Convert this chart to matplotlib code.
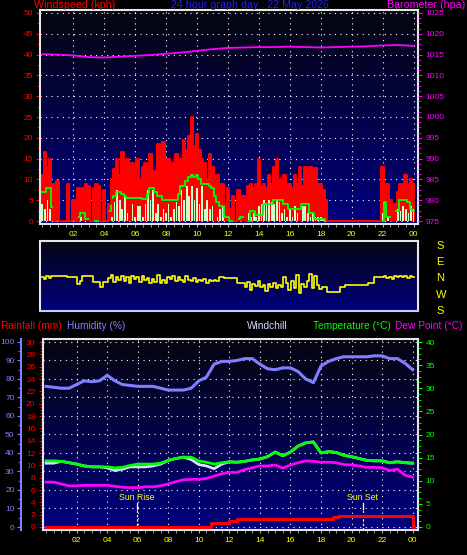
import numpy as np
import matplotlib
matplotlib.use('Agg')
import matplotlib.pyplot as plt
from matplotlib.ticker import MultipleLocator, FuncFormatter

plt.rcParams['font.family'] = ['Liberation Sans', 'DejaVu Sans']

W, H = 467, 555

# ---------------- data ----------------
# wind samples every 10 minutes (hours)
wind_hours = np.arange(145) / 6.0
gust = [11, 16.5, 13, 15, 9, 0,
        9.5, 0, 0, 0, 9, 0,
        5, 0, 8, 4, 8, 9,
        8.5, 0, 8, 9, 8.5, 0,
        7.5, 0, 4, 10, 12.5, 15,
        11, 16.5, 12, 15, 10, 14,
        12, 15, 10, 13, 14, 11,
        16, 10, 12, 18.5, 9, 19,
        10, 15, 12, 14, 16, 11,
        15, 19.5, 17, 20.5, 25, 18,
        20.8, 17, 15, 14, 10, 16,
        13, 9, 11, 7, 9, 4,
        8, 3, 6, 0, 7.5, 2,
        6, 0, 8.5, 9, 8, 9,
        15, 8.5, 9, 8, 11, 9,
        13, 15, 10, 9, 11, 8.5,
        9, 8, 11, 9, 13, 8.5,
        13, 9, 13, 8, 12.8, 6,
        9, 7.5, 5, 0, 0, 0,
        0, 0, 0, 0, 0, 0,
        0, 0, 0, 0, 0, 0,
        0, 0, 0, 0, 0, 0,
        13, 8.5, 9, 5, 0, 4,
        7, 9, 8.5, 11, 9, 10,
        9]
speed = [4, 3, 5, 3, 0, 0,
         0, 0, 0, 0, 0, 0,
         0, 0, 0, 1, 0, 0,
         0, 0, 0, 0, 0, 0,
         0, 0, 0, 1, 4.5, 7.5,
         5, 3, 6, 2, 0, 4,
         1, 3.5, 3.5, 1, 4, 7.5,
         5, 7.5, 2, 4, 1, 3,
         2, 4, 1, 3, 4.5, 3.5,
         7.5, 5, 8.5, 6, 8.5, 5,
         8, 4, 8.5, 3, 5, 3,
         3.5, 0, 1, 3, 3.3, 0,
         0, 0, 0, 0, 0, 0,
         0, 1, 2, 1, 2, 1,
         3.5, 4, 5, 4, 5, 4.5,
         4, 5, 4.5, 2, 3, 1,
         3, 1, 3.5, 2, 0, 3.5,
         3.5, 2, 1, 2, 1, 1,
         1, 0.5, 0, 0, 0, 0,
         0, 0, 0, 0, 0, 0,
         0, 0, 0, 0, 0, 0,
         0, 0, 0, 0, 0, 0,
         2, 0, 1, 0, 0, 0,
         3, 2.5, 3.5, 3, 2, 3.5,
         3]
avg_speed = [7, 7, 8, 8, 3.3, 0,
             0, 0, 0, 0, 0, 0,
             0, 0, 1, 2, 2, 0.5,
             0.5, 0, 0, 0, 0, 0,
             0, 0, 2.5, 5.5, 6, 7,
             7, 6.5, 6, 5.5, 5.5, 5.5,
             5.5, 5.5, 5.5, 5.4, 5.4, 6.5,
             8, 8, 7, 6, 6, 5,
             5, 5, 5, 5, 5, 6.5,
             8.5, 8.5, 9.5, 10.5, 11, 10.5,
             11, 10, 9, 9, 9, 8.5,
             8, 6, 4.5, 3.5, 3.5, 1,
             1, 0, 0, 0, 0.5, 1,
             1, 0.5, 0, 2.5, 2.5, 1.5,
             1.5, 1.5, 4, 4, 4, 4,
             5, 5, 5, 5, 4, 4,
             3, 3, 3, 3, 3, 4,
             4, 4, 2, 2, 0.5, 0.5,
             0.5, 0.5, 0, 0, 0, 0,
             0, 0, 0, 0, 0, 0,
             0, 0, 0, 0, 0, 0,
             0, 0, 0, 0, 0, 0,
             0, 4.5, 1, 1, 2.5, 2.5,
             2.5, 5, 5, 5, 4.5, 3,
             2.5]
# wind direction, degrees (N=0, E=90, S=180, W=-90)
direction = [5, -8, 6, -3, 9, 9,
             9, 9, 9, 9, 3, 3,
             3, 3, -36, -18, 9, 9,
             9, 9, -27, -27, -27, -51,
             -27, -27, -5, 12, -25, 5,
             -15, 10, -20, 0, -30, 8,
             -10, 5, -25, 10, -12, -5,
             -30, -10, -25, 12, -28, -15,
             -30, 0, -10, 10, -20, 5,
             -12, -25, 8, -15, -20, -5,
             -25, -12, -20, -10, -28, -15,
             -22, -12, -18, 0, 0, -5,
             -5, -5, -5, -5, -33, -33,
             -33, -50, -25, -70, -35, -45,
             -20, -55, -40, -75, -35, -50,
             -30, -60, -40, -55, 5, -30,
             -70, -20, -60, 15, -85, -35,
             -50, -20, 20, -60, 10, -40,
             -65, -55, -55, -78, -78, -78,
             -78, -78, -55, -55, -40, -40,
             -40, -40, -40, -40, -40, -40,
             -40, -31, -31, 0, 0, 0,
             3, 8, -5, 5, -10, 6,
             0, 8, 5, 8, -3, 6,
             3]
baro_hours = list(range(25))
baro = [1015.1, 1015.0, 1014.8, 1014.4, 1014.3, 1014.5, 1014.7, 1014.9, 1015.2,
        1015.5, 1015.9, 1016.3, 1016.6, 1016.7, 1016.8, 1016.8, 1016.9, 1016.8,
        1016.7, 1016.8, 1016.9, 1017.0, 1017.2, 1017.3, 1017.1]

# lower panel, half-hourly
hours_b = np.arange(49) / 2.0
temperature = [14.3, 14.3, 14.2, 13.9, 13.6, 13.2, 13.0, 13.0, 13.0, 12.8,
               12.9, 13.3, 13.6, 13.6, 13.6, 13.8, 14.4, 14.8, 15.1, 15.1,
               14.3, 14.0, 13.6, 13.9, 14.1, 14.0, 14.2, 14.5, 14.7, 15.2,
               16.2, 15.4, 16.2, 17.5, 18.2, 18.4, 16.0, 16.3, 16.1, 15.5,
               15.2, 14.8, 14.4, 14.3, 14.3, 13.9, 14.1, 13.9, 13.8]
windchill = [13.8, 13.8, 14.2, 13.9, 13.6, 13.2, 13.0, 13.0, 12.8, 12.2,
             12.5, 13.0, 13.0, 13.0, 13.2, 13.6, 14.4, 14.8, 15.1, 14.6,
             13.5, 13.2, 12.6, 13.6, 14.1, 14.0, 14.2, 14.5, 14.7, 15.2,
             16.2, 15.4, 16.2, 17.5, 18.2, 18.4, 16.0, 16.3, 16.1, 15.5,
             15.2, 14.8, 14.4, 14.3, 14.3, 13.9, 14.1, 13.9, 13.8]
dew_point = [9.7, 9.7, 9.3, 8.9, 8.9, 9.0, 9.0, 9.0, 9.0, 8.8,
             8.6, 8.5, 8.5, 8.7, 8.7, 8.9, 9.3, 9.8, 10.2, 10.3,
             10.3, 10.5, 11.0, 11.5, 11.8, 11.8, 12.4, 12.8, 13.2, 13.2,
             13.4, 12.7, 13.4, 13.9, 14.3, 14.2, 14.0, 14.0, 13.9, 13.5,
             13.4, 13.2, 12.9, 12.9, 12.8, 12.2, 12.5, 11.2, 10.8]
humidity = [76, 75.5, 75, 75, 77, 79, 78.5, 79, 82, 79,
            77, 76.5, 76, 76, 76, 75, 74, 74, 74, 75,
            79, 81, 88, 89.5, 89.5, 90, 91, 91, 88, 85.5,
            85, 86, 86, 84, 80, 78, 87, 89.5, 91, 92,
            92, 92, 92, 92.5, 92.5, 91, 91, 88.5, 85]
rain_hours = [0, 10.8, 11.2, 12.0, 12.5, 18.8, 19.1, 24.0, 24.1]
rain = [0, 0.6, 0.7, 0.9, 1.25, 1.6, 1.8, 0, 0]
sun_rise = 5.95
sun_set = 20.72

# ---------------- figure ----------------
fig = plt.figure(figsize=(W / 100, H / 100), dpi=100, facecolor='black')


def rect(l, t, r, b):
    return [l / W, 1 - b / H, (r - l) / W, (b - t) / H]


def gradient(ax):
    g = np.linspace(0, 1, 256)[:, None, None]
    top = np.array([0.02, 0.02, 0.06])
    bot = np.array([0.0, 0.0, 0.50])
    img = top + (bot - top) * g
    ax.imshow(img, extent=[0, 1, 0, 1], transform=ax.transAxes,
              aspect='auto', zorder=0, interpolation='bilinear')


FRAME = '#e6e6e6'
DOT = (0, (1, 4))
hour_fmt = FuncFormatter(lambda v, p: '%02d' % (int(round(v)) % 24))
TL = 6  # tick label size

# ---- top panel: wind + barometer ----
ax1 = fig.add_axes(rect(40, 10, 418, 224))
gradient(ax1)
ax1.bar(wind_hours, gust, width=1 / 6, color='#ff0000', linewidth=0, zorder=2)
ax1.bar(wind_hours, speed, width=0.11, color='#ccffcc', linewidth=0, zorder=3)
ax1.plot(wind_hours, avg_speed, drawstyle='steps-mid', color='#00ff00', lw=1.3, zorder=4)
ax1.plot(wind_hours, gust, drawstyle='steps-mid', color='#ff0000', lw=1.4, zorder=5)
ax1.set_xlim(-0.15, 24.29)
ax1.set_ylim(-0.72, 50.72)
ax1.yaxis.set_major_locator(MultipleLocator(5))
ax1.yaxis.set_minor_locator(MultipleLocator(2.5))
ax1.set_xticks([h for h in range(2, 25, 2)])
ax1.xaxis.set_minor_locator(MultipleLocator(0.5))
ax1.xaxis.set_major_formatter(hour_fmt)
ax1.grid(True, which='major', color='white', linestyle=DOT, linewidth=0.8)
ax1.tick_params(axis='y', which='both', colors='#ff0000', labelsize=TL, pad=2)
ax1.tick_params(axis='y', which='major', length=3)
ax1.tick_params(axis='y', which='minor', length=2)
ax1.tick_params(axis='x', which='both', color='#b0b0b0', labelcolor='#ffff00',
                labelsize=TL, length=2.5, pad=2.5)
for s in ax1.spines.values():
    s.set_color(FRAME)
    s.set_linewidth(1.5)

ax1b = ax1.twinx()
ax1b.plot(baro_hours, baro, color='#ff00ff', lw=1.3)
ax1b.set_ylim(974.28, 1025.72)
ax1b.yaxis.set_major_locator(MultipleLocator(5))
ax1b.yaxis.set_minor_locator(MultipleLocator(1.25))
ax1b.tick_params(axis='y', which='both', colors='#ff00ff', labelsize=TL, pad=2.5)
ax1b.tick_params(axis='y', which='major', length=3)
ax1b.tick_params(axis='y', which='minor', length=2)
for s in ax1b.spines.values():
    s.set_visible(False)

fig.text(34 / W, 1 - 5.5 / H, 'Windspeed (kph)', color='#ff0000', fontsize=7.7,
         ha='left', va='center')
fig.text(250 / W, 1 - 5.5 / H, '24 hour graph day : 22 May 2026', color='#1f1fff',
         fontsize=7.7, ha='center', va='center')
fig.text(465 / W, 1 - 5.5 / H, 'Barometer (hpa)', color='#ff00ff', fontsize=7.7,
         ha='right', va='center')

# ---- direction panel ----
ax2 = fig.add_axes(rect(40, 241, 418, 311))
gradient(ax2)
ax2.plot(wind_hours, direction, drawstyle='steps-mid', color='#ffff00', lw=1.2, zorder=3)
ax2.set_xlim(-0.15, 24.29)
ax2.set_ylim(-185.5, 201.8)
ax2.set_xticks([])
ax2.yaxis.tick_right()
ax2.set_yticks([180, 90, 0, -90, -180])
ax2.set_yticklabels(['S', 'E', 'N', 'W', 'S'])
ax2.tick_params(axis='y', length=0, pad=13, labelcolor='#ffff00', labelsize=8)
for s in ax2.spines.values():
    s.set_color(FRAME)
    s.set_linewidth(1.5)
ax2.spines['bottom'].set_color('#c8c8ff')

# ---- bottom panel ----
ax3 = fig.add_axes(rect(43, 339, 418, 530))
gradient(ax3)
ax3.plot(hours_b, humidity, color='#7f7fff', lw=2.2, zorder=3)
ax3.set_xlim(-0.2, 24.35)
ax3.set_ylim(-1.62, 101.6)
ax3.yaxis.set_major_locator(MultipleLocator(10))
ax3.yaxis.set_minor_locator(MultipleLocator(5))
ax3.set_xticks([h for h in range(2, 25, 2)])
ax3.xaxis.set_minor_locator(MultipleLocator(0.5))
ax3.xaxis.set_major_formatter(hour_fmt)
ax3.grid(True, which='major', color='white', linestyle=DOT, linewidth=0.8)
ax3.tick_params(axis='y', which='both', colors='#8080ff', labelsize=TL, pad=2)
ax3.tick_params(axis='y', which='major', length=3)
ax3.tick_params(axis='y', which='minor', length=2)
ax3.tick_params(axis='x', which='both', color='#b0b0b0', labelcolor='#ffff00',
                labelsize=TL, length=2.5, pad=2.5)
for s in ax3.spines.values():
    s.set_color(FRAME)
    s.set_linewidth(1.5)
ax3.spines['left'].set_position(('outward', 15.5))
ax3.spines['left'].set_color('#8080ff')
ax3.spines['left'].set_linewidth(1.5)

# sun rise / set markers
for t, lab in [(sun_rise, 'Sun Rise'), (sun_set, 'Sun Set')]:
    ax3.plot([t, t], [-1.6, 9.7], color='#ffff00', lw=0.9, ls=(0, (2, 1.5)), zorder=4)
    ax3.plot([t, t], [9.7, 13.0], color='white', lw=0.9, zorder=4)
    ax3.text(t, 16.2, lab, color='#ffff00', fontsize=6.3, ha='center', va='center', zorder=5)

ax_r = ax3.twinx()
ax_r.yaxis.tick_left()
ax_r.step(rain_hours, rain, where='post', color='#ff0000', lw=2.2)
ax_r.set_ylim(-0.487, 30.49)
ax_r.yaxis.set_major_locator(MultipleLocator(2))
ax_r.yaxis.set_minor_locator(MultipleLocator(0.5))
ax_r.tick_params(axis='y', which='both', colors='#ff0000', labelsize=TL, pad=2.5)
ax_r.tick_params(axis='y', which='major', length=3)
ax_r.tick_params(axis='y', which='minor', length=2)
for k, s in ax_r.spines.items():
    s.set_visible(k == 'left')
    s.set_color(FRAME)
    s.set_linewidth(1.5)

ax_t = ax3.twinx()
ax_t.plot(hours_b, windchill, color='#d8e0ff', lw=2.0)
ax_t.plot(hours_b, temperature, color='#00ff00', lw=2.0)
ax_t.plot(hours_b, dew_point, color='#ff00ff', lw=2.0)
ax_t.set_ylim(-0.65, 40.65)
ax_t.yaxis.set_major_locator(MultipleLocator(5))
ax_t.yaxis.set_minor_locator(MultipleLocator(1.25))
ax_t.tick_params(axis='y', which='both', colors='#00ff00', labelsize=TL, pad=2.5)
ax_t.tick_params(axis='y', which='major', length=3)
ax_t.tick_params(axis='y', which='minor', length=2)
for s in ax_t.spines.values():
    s.set_visible(False)

ly = 1 - 326 / H
fig.text(1 / W, ly, 'Rainfall (mm)', color='#ff0000', fontsize=7.3, va='center')
fig.text(67 / W, ly, 'Humidity (%)', color='#8080ff', fontsize=7.3, va='center')
fig.text(247 / W, ly, 'Windchill', color='#d0dcff', fontsize=7.3, va='center')
fig.text(313 / W, ly, 'Temperature (°C)', color='#00ff00', fontsize=7.3, va='center')
fig.text(462 / W, ly, 'Dew Point (°C)', color='#ff00ff', fontsize=7.3, va='center', ha='right')

fig.savefig('out.png', dpi=100, facecolor='black')
